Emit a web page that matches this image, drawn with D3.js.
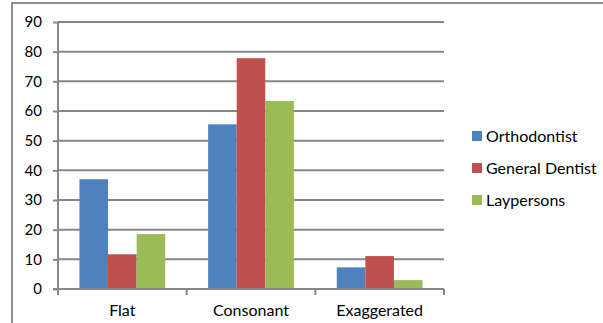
<!DOCTYPE html>
<html>
<head>
<meta charset="utf-8">
<script src="https://cdn.jsdelivr.net/npm/d3@7"></script>
<style>
  body { margin: 0; background: #fff; }
  svg { display: block; }
  text { font-family: Lato, "Open Sans", sans-serif; fill: #000; }
</style>
</head>
<body>
<div id="chart"></div>
<script>
const categories = ['Flat', 'Consonant', 'Exaggerated'];
const seriesNames = ['Orthodontist', 'General Dentist', 'Laypersons'];
const orthodontist = [37, 55.5, 7.3];
const generalDentist = [11.7, 77.8, 11.1];
const laypersons = [18.5, 63.4, 3.0];
const yTicks = [0, 10, 20, 30, 40, 50, 60, 70, 80, 90];

const colors = ['#4f81bd', '#c0504d', '#9bbb59'];
const seriesValues = [orthodontist, generalDentist, laypersons];

const width = 603, height = 323;
const plot = {left: 58, right: 444, top: 22, bottom: 289};
const grey = '#878787';

const svg = d3.select('#chart').append('svg')
              .attr('width', width)
              .attr('height', height);

// outer frame (only top and left edges visible in the crop)
svg.append('path')
   .attr('d', 'M12,' + height + 'V3H' + width)
   .attr('fill', 'none')
   .attr('stroke', '#8e8e8e')
   .attr('stroke-width', 2);

const x = d3.scaleBand()
            .domain(categories)
            .range([plot.left, plot.right]);

const x1 = d3.scaleBand()
             .domain(seriesNames)
             .range([0, x.bandwidth()])
             .paddingOuter(0.75);

const y = d3.scaleLinear()
            .domain([0, 90])
            .range([plot.bottom, plot.top]);

// gridlines
svg.append('g')
   .selectAll('line')
   .data(yTicks.filter(d => d > 0))
   .enter().append('line')
   .attr('x1', plot.left)
   .attr('x2', plot.right)
   .attr('y1', d => y(d))
   .attr('y2', d => y(d))
   .attr('stroke', grey)
   .attr('stroke-width', 2);

// bars
const groups = svg.append('g')
                  .selectAll('g')
                  .data(categories)
                  .enter().append('g')
                  .attr('transform', d => 'translate(' + x(d) + ',0)');

groups.selectAll('rect')
      .data((c, i) => seriesNames.map((s, j) => ({s: s, v: seriesValues[j][i], j: j})))
      .enter().append('rect')
      .attr('x', d => x1(d.s))
      .attr('width', x1.bandwidth())
      .attr('y', d => y(d.v))
      .attr('height', d => y(0) - y(d.v))
      .attr('fill', d => colors[d.j]);

// y axis
const yAxis = d3.axisLeft(y)
                .tickValues(yTicks)
                .tickSize(5)
                .tickPadding(11);

const ya = svg.append('g')
              .attr('transform', 'translate(' + plot.left + ',0)')
              .call(yAxis);
ya.select('.domain').attr('stroke', grey).attr('stroke-width', 2)
  .attr('d', 'M0,' + plot.top + 'V' + plot.bottom);
ya.selectAll('.tick line').attr('stroke', grey).attr('stroke-width', 2);
ya.selectAll('.tick text').style('font-size', '15px').attr('fill', '#000');

// x axis
const xa = svg.append('g')
              .attr('transform', 'translate(0,' + plot.bottom + ')');
xa.append('line')
  .attr('x1', plot.left - 5)
  .attr('x2', plot.right)
  .attr('stroke', grey)
  .attr('stroke-width', 2);
xa.selectAll('.xtick')
  .data(categories.map(c => x(c)).concat([plot.right]))
  .enter().append('line')
  .attr('x1', d => d)
  .attr('x2', d => d)
  .attr('y1', 0)
  .attr('y2', 6)
  .attr('stroke', grey)
  .attr('stroke-width', 2);
xa.selectAll('text')
  .data(categories)
  .enter().append('text')
  .attr('x', d => x(d) + x.bandwidth() / 2)
  .attr('y', 27)
  .attr('text-anchor', 'middle')
  .style('font-size', '16px')
  .text(d => d);

// legend
const legend = svg.append('g')
                  .attr('transform', 'translate(472,136)');
const item = legend.selectAll('g')
                   .data(seriesNames)
                   .enter().append('g')
                   .attr('transform', (d, i) => 'translate(0,' + i * 32 + ')');
item.append('rect')
    .attr('x', 0)
    .attr('y', -5)
    .attr('width', 10)
    .attr('height', 10)
    .attr('fill', (d, i) => colors[i]);
item.append('text')
    .attr('x', 14)
    .attr('y', 5.5)
    .style('font-size', '16px')
    .text(d => d);
</script>
</body>
</html>
